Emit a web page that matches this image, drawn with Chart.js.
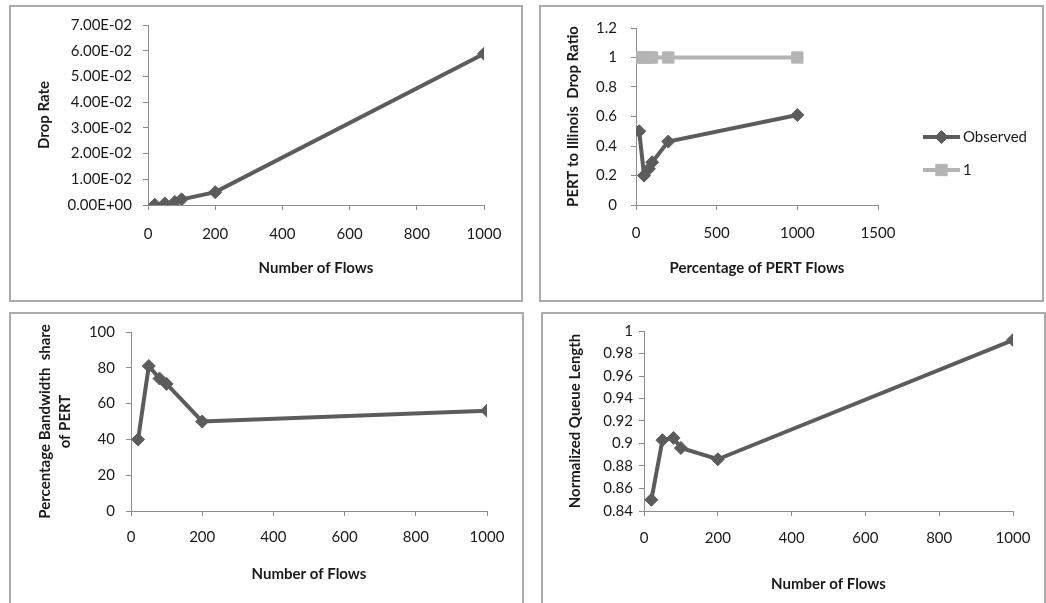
<!DOCTYPE html>
<html><head><meta charset="utf-8">
<script src="https://cdn.jsdelivr.net/npm/chart.js@4.4.0/dist/chart.umd.min.js"></script>
<style>
html,body{margin:0;padding:0;background:#fff;width:1046px;height:603px;overflow:hidden;position:relative;}
canvas{position:absolute;}
.frame{position:absolute;border:2px solid #ababab;box-sizing:border-box;pointer-events:none;}
</style></head><body>
<script>
// ---------------- data ----------------
const flows = [20, 50, 80, 100, 200, 1000];
const dropRate = [0.0001, 0.0006, 0.0012, 0.0022, 0.0050, 0.0588];
const pertFlows = [20, 50, 80, 100, 200, 1000];
const dropRatioObserved = [0.50, 0.20, 0.245, 0.29, 0.43, 0.61];
const dropRatioOne = [1, 1, 1, 1, 1, 1];
const bandwidthShare = [40, 81, 74, 71, 50, 56];
const queueLength = [0.850, 0.903, 0.905, 0.896, 0.886, 0.992];

const flowTicks = [0, 200, 400, 600, 800, 1000];
const pertTicks = [0, 500, 1000, 1500];
const dropRateTicks = [0, 0.01, 0.02, 0.03, 0.04, 0.05, 0.06, 0.07];
const ratioTicks = [0, 0.2, 0.4, 0.6, 0.8, 1, 1.2];
const shareTicks = [0, 20, 40, 60, 80, 100];
const queueTicks = [0.84, 0.86, 0.88, 0.90, 0.92, 0.94, 0.96, 0.98, 1];

// ---------------- style ----------------
const FONT = 'Lato, "Open Sans", "Liberation Sans", sans-serif';
const TXT = '#1a1a1a';
const AXIS = '#8c8c8c';
const DARK = '#5c5c5c';
const LIGHT = '#b4b4b4';
const tickFont = {family: FONT, size: 15, lineHeight: 1.2};
const titleFont = {family: FONT, size: 15, weight: 'bold', lineHeight: 1.2};

function expLabel(v) {
  let s = Number(v).toExponential(2).toUpperCase();
  return s.replace(/E([+-])(\d)$/, 'E$10$2');
}
function plainLabel(v) { return String(+Number(v).toFixed(2)); }

function pairs(xs, ys) { return xs.map((x, i) => ({x: x, y: ys[i]})); }

const sideLegend = {
  id: 'sideLegend',
  afterDraw(chart, args, opts) {
    if (!opts || !opts.show) return;
    const ctx = chart.ctx;
    chart.data.datasets.forEach((ds, i) => {
      const y = opts.y0 + i * opts.gap;
      ctx.save();
      ctx.strokeStyle = ds.borderColor;
      ctx.lineWidth = ds.borderWidth;
      ctx.beginPath();
      ctx.moveTo(opts.x0, y);
      ctx.lineTo(opts.x0 + opts.len, y);
      ctx.stroke();
      ctx.fillStyle = ds.pointBackgroundColor;
      ctx.strokeStyle = ds.pointBorderColor;
      ctx.lineWidth = 1;
      Chart.helpers.drawPoint(ctx, {pointStyle: ds.pointStyle, radius: ds.pointRadius, borderWidth: 1, rotation: 0}, opts.x0 + opts.len / 2, y);
      ctx.fillStyle = TXT;
      ctx.font = '15px ' + FONT;
      ctx.textBaseline = 'middle';
      ctx.textAlign = 'left';
      ctx.fillText(ds.label, opts.x0 + opts.len + 3, y);
      ctx.restore();
    });
  }
};

function lineSet(label, data, color, style, radius) {
  return {
    label: label, data: data, showLine: true, tension: 0,
    borderColor: color, borderWidth: 4,
    pointStyle: style, pointRadius: radius, pointHoverRadius: radius,
    pointBackgroundColor: color, pointBorderColor: color, pointBorderWidth: 1
  };
}

function makePanel(p) {
  const cv = document.createElement('canvas');
  cv.width = p.box.w; cv.height = p.box.h;
  cv.style.left = p.box.x + 'px'; cv.style.top = p.box.y + 'px';
  cv.style.width = p.box.w + 'px'; cv.style.height = p.box.h + 'px';
  document.body.appendChild(cv);
  const fr = document.createElement('div');
  fr.className = 'frame';
  fr.style.left = p.box.x + 'px'; fr.style.top = p.box.y + 'px';
  fr.style.width = p.box.w + 'px'; fr.style.height = p.box.h + 'px';
  document.body.appendChild(fr);

  const halfT = titleFont.size * titleFont.lineHeight / 2;
  const padLeft = p.yTitleX - p.box.x - halfT;
  const yWidth = p.plot.L - p.box.x - padLeft;
  const padRight = p.box.x + p.box.w - p.plot.R;
  const padTop = p.plot.T - p.box.y;
  const xBottom = p.xTitleY + halfT;
  const xHeight = xBottom - p.plot.B;
  const padBottom = p.box.y + p.box.h - xBottom;

  const grid = {display: true, drawOnChartArea: false, drawTicks: true, tickLength: 5, color: AXIS, lineWidth: 1};
  const border = {display: true, color: AXIS, width: 1};

  return new Chart(cv, {
    type: 'scatter',
    data: {datasets: p.datasets},
    plugins: p.legend ? [sideLegend] : [],
    options: {
      responsive: false, animation: false, devicePixelRatio: 1,
      layout: {padding: {left: padLeft, right: padRight, top: padTop, bottom: padBottom}},
      plugins: {
        legend: {display: false}, tooltip: {enabled: false},
        sideLegend: p.legend || {show: false}
      },
      scales: {
        x: {
          type: 'linear', min: p.xTicks[0], max: p.xTicks[p.xTicks.length - 1],
          afterBuildTicks(s) { s.ticks = p.xTicks.map(v => ({value: v})); },
          afterFit(s) { s.height = xHeight; },
          grid: grid, border: border,
          ticks: {font: tickFont, color: TXT, padding: p.xPad, autoSkip: false, maxRotation: 0, callback: v => plainLabel(v)},
          title: {display: true, text: p.xTitle, font: titleFont, color: TXT, padding: 0}
        },
        y: {
          type: 'linear', min: p.yTicks[0], max: p.yTicks[p.yTicks.length - 1],
          afterBuildTicks(s) { s.ticks = p.yTicks.map(v => ({value: v})); },
          afterFit(s) { s.width = yWidth; },
          grid: grid, border: border,
          ticks: {font: tickFont, color: TXT, padding: p.yPad, autoSkip: false, callback: p.yFmt},
          title: {display: true, text: p.yTitle, font: Object.assign({}, titleFont, p.yTitleLH ? {lineHeight: p.yTitleLH} : {}), color: TXT, padding: 0}
        }
      }
    }
  });
}

makePanel({
  box: {x: 9, y: 5, w: 514, h: 297},
  plot: {L: 148, R: 484, T: 24, B: 205},
  yTitleX: 44, xTitleY: 268, xPad: 15, yPad: 11,
  xTicks: flowTicks, yTicks: dropRateTicks, yFmt: v => expLabel(v),
  xTitle: 'Number of Flows', yTitle: 'Drop Rate',
  datasets: [lineSet('Drop Rate', pairs(flows, dropRate), DARK, 'rectRot', 6.5)]
});

makePanel({
  box: {x: 539, y: 5, w: 505, h: 297},
  plot: {L: 636, R: 878, T: 25, B: 205},
  yTitleX: 573, xTitleY: 268, xPad: 14, yPad: 14,
  xTicks: pertTicks, yTicks: ratioTicks, yFmt: v => plainLabel(v),
  xTitle: 'Percentage of PERT Flows', yTitle: 'PERT to Illinois  Drop Ratio',
  datasets: [
    lineSet('Observed', pairs(pertFlows, dropRatioObserved), DARK, 'rectRot', 6.5),
    lineSet('1', pairs(pertFlows, dropRatioOne), LIGHT, 'rect', 8)
  ],
  legend: {show: true, x0: 923 - 539, y0: 137 - 5, gap: 33, len: 37}
});

makePanel({
  box: {x: 9, y: 312, w: 515, h: 300},
  plot: {L: 131, R: 487, T: 331, B: 511},
  yTitleX: 44, yTitleLH: 1.35, xTitleY: 574, xPad: 12, yPad: 11,
  xTicks: flowTicks, yTicks: shareTicks, yFmt: v => plainLabel(v),
  xTitle: 'Number of Flows', yTitle: ['Percentage Bandwidth  share', 'of PERT'],
  datasets: [lineSet('Share', pairs(flows, bandwidthShare), DARK, 'rectRot', 6.5)]
});

makePanel({
  box: {x: 541, y: 312, w: 505, h: 300},
  plot: {L: 644, R: 1013, T: 331, B: 511},
  yTitleX: 575, xTitleY: 584, xPad: 13, yPad: 6,
  xTicks: flowTicks, yTicks: queueTicks, yFmt: v => plainLabel(v),
  xTitle: 'Number of Flows', yTitle: 'Normalized Queue Length',
  datasets: [lineSet('Queue', pairs(flows, queueLength), DARK, 'rectRot', 6.5)]
});
</script>
</body></html>
